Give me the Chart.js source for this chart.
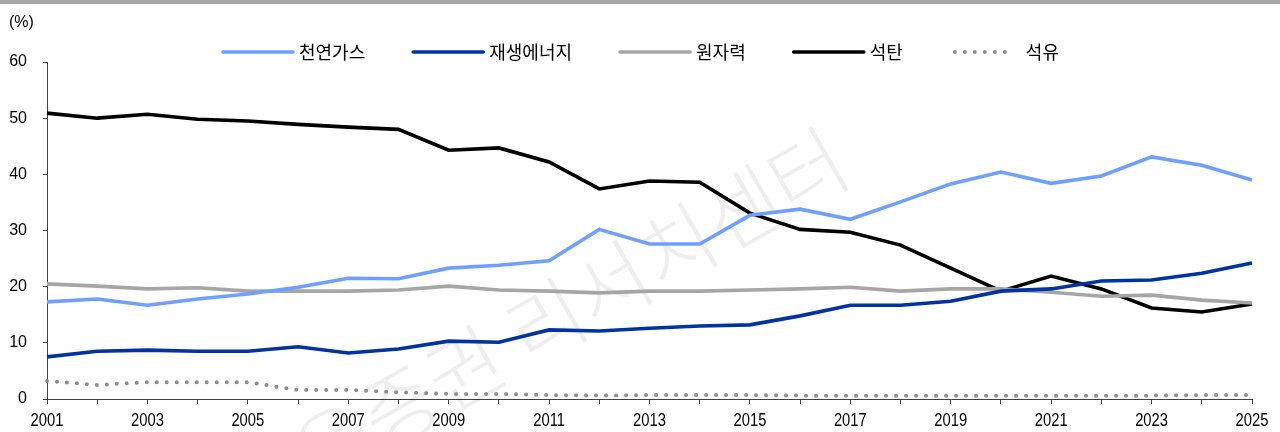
<!DOCTYPE html>
<html>
<head>
<meta charset="utf-8">
<script src="https://cdn.jsdelivr.net/npm/chart.js@4"></script>
<style>
  html, body { margin: 0; padding: 0; background: #fff; }
  #wrap { width: 1280px; height: 432px; }
</style>
</head>
<body>
<div id="wrap"><canvas id="chart" width="1280" height="432"></canvas></div>
<script>
const years = ['2001','2002','2003','2004','2005','2006','2007','2008','2009','2010','2011','2012','2013',
               '2014','2015','2016','2017','2018','2019','2020','2021','2022','2023','2024','2025'];
const gas     = [17.3,17.8,16.7,17.8,18.7,19.9,21.5,21.4,23.3,23.8,24.6,30.2,27.6,27.6,32.7,33.8,32.0,35.1,38.3,40.4,38.4,39.7,43.1,41.6,39.0];
const renew   = [7.5,8.5,8.7,8.5,8.5,9.3,8.2,8.9,10.3,10.1,12.3,12.1,12.6,13.0,13.2,14.8,16.7,16.7,17.4,19.2,19.6,21.0,21.2,22.4,24.2];
const nuclear = [20.5,20.1,19.6,19.8,19.2,19.2,19.2,19.4,20.1,19.4,19.2,18.9,19.2,19.2,19.4,19.6,19.9,19.2,19.6,19.6,19.0,18.3,18.5,17.6,17.1];
const coal    = [50.9,50.0,50.7,49.8,49.5,48.9,48.4,48.0,44.3,44.7,42.2,37.4,38.8,38.6,33.1,30.2,29.7,27.4,23.3,19.2,21.9,19.6,16.2,15.5,16.9];
const oil     = [3.2,2.5,3.0,3.0,3.0,1.6,1.6,1.2,0.9,0.9,0.7,0.6,0.7,0.7,0.7,0.6,0.6,0.6,0.6,0.6,0.6,0.6,0.6,0.7,0.7];
const yTicks  = [0,10,20,30,40,50,60];

const numFont = "'Liberation Sans', Arial, sans-serif";
const korFont = "'Noto Sans CJK KR', 'Noto Sans', sans-serif";

// top band, watermark, unit label, condensed year labels and legend
const decor = {
    id: 'decor',
    beforeDatasetsDraw(chart) {
        const ctx = chart.ctx;
        ctx.save();
        ctx.translate(840, 152);
        ctx.rotate(-30 * Math.PI / 180);
        ctx.font = "300 82px " + korFont;
        ctx.fillStyle = 'rgba(0,0,0,0.065)';
        ctx.textAlign = 'right';
        ctx.textBaseline = 'middle';
        ctx.fillText('키움증권 리서치센터', 0, 0);
        ctx.restore();
    },
    afterDraw(chart) {
        const ctx = chart.ctx;
        ctx.save();
        ctx.fillStyle = '#a6a6a6';
        ctx.fillRect(0, 0, chart.width, 4);

        ctx.fillStyle = '#000';
        ctx.font = "16px " + numFont;
        ctx.textBaseline = 'middle';
        ctx.fillText('(%)', 9, 23);

        // year labels, squeezed like a narrow face
        const xs = chart.scales.x;
        const base = chart.chartArea.bottom + 27;
        ctx.font = "18px " + numFont;
        ctx.textAlign = 'center';
        ctx.textBaseline = 'alphabetic';
        years.forEach((yr, i) => {
            if (i % 2) return;
            ctx.save();
            ctx.translate(xs.getPixelForTick(i), base);
            ctx.scale(0.82, 1);
            ctx.fillText(yr, 0, 0);
            ctx.restore();
        });

        // legend
        ctx.textAlign = 'left';
        ctx.textBaseline = 'middle';
        let x = 223;
        const y = 52;
        ctx.font = "18px " + korFont;
        chart.data.datasets.forEach(ds => {
            const dotted = !!ds.borderDash;
            ctx.beginPath();
            ctx.strokeStyle = ds.borderColor;
            ctx.lineWidth = ds.borderWidth;
            ctx.lineCap = 'round';
            ctx.setLineDash(ds.borderDash || []);
            const w = dotted ? 62 : 70;
            ctx.moveTo(x + (dotted ? 4 : 0), y);
            ctx.lineTo(x + w, y);
            ctx.stroke();
            ctx.setLineDash([]);
            const tx = x + w + (dotted ? 13 : 6);
            ctx.fillStyle = '#000';
            ctx.fillText(ds.label, tx, y);
            x = tx + ctx.measureText(ds.label).width + 48;
        });
        ctx.restore();
    }
};

const line = (label, data, color, extra) => Object.assign({
    label, data,
    borderColor: color,
    backgroundColor: color,
    borderWidth: 3.6,
    pointRadius: 0,
    tension: 0,
    fill: false
}, extra || {});

new Chart(document.getElementById('chart'), {
    type: 'line',
    data: {
        labels: years,
        datasets: [
            line('천연가스', gas, '#6fa0ff'),
            line('재생에너지', renew, '#0033a0'),
            line('원자력', nuclear, '#a6a6a6'),
            line('석탄', coal, '#000000'),
            line('석유', oil, '#8c8c8c', { borderWidth: 4, borderDash: [0, 10], borderCapStyle: 'round' })
        ]
    },
    options: {
        responsive: false,
        animation: false,
        layout: { padding: { top: 62, right: 28, bottom: 0, left: 0 } },
        plugins: { legend: { display: false }, tooltip: { enabled: false } },
        scales: {
            x: {
                offset: false,
                afterFit: s => { s.height = 33; },
                border: { display: true, color: '#404040', width: 1 },
                grid: { drawOnChartArea: false, drawTicks: true, tickLength: 5, color: '#404040' },
                ticks: {
                    autoSkip: false, maxRotation: 0, padding: 5,
                    color: 'rgba(0,0,0,0)',
                    font: { family: numFont, size: 18 },
                    callback: (v, i) => (i % 2 === 0 ? years[i] : '')
                }
            },
            y: {
                min: 0, max: 60,
                afterFit: s => { s.width = 47; },
                afterBuildTicks: s => { s.ticks = yTicks.map(v => ({ value: v })); },
                border: { display: true, color: '#404040', width: 1 },
                grid: { drawOnChartArea: false, drawTicks: true, tickLength: 4, color: '#404040' },
                ticks: {
                    padding: 16, color: '#000',
                    font: { family: numFont, size: 16 }
                }
            }
        }
    },
    plugins: [decor]
});
</script>
</body>
</html>
